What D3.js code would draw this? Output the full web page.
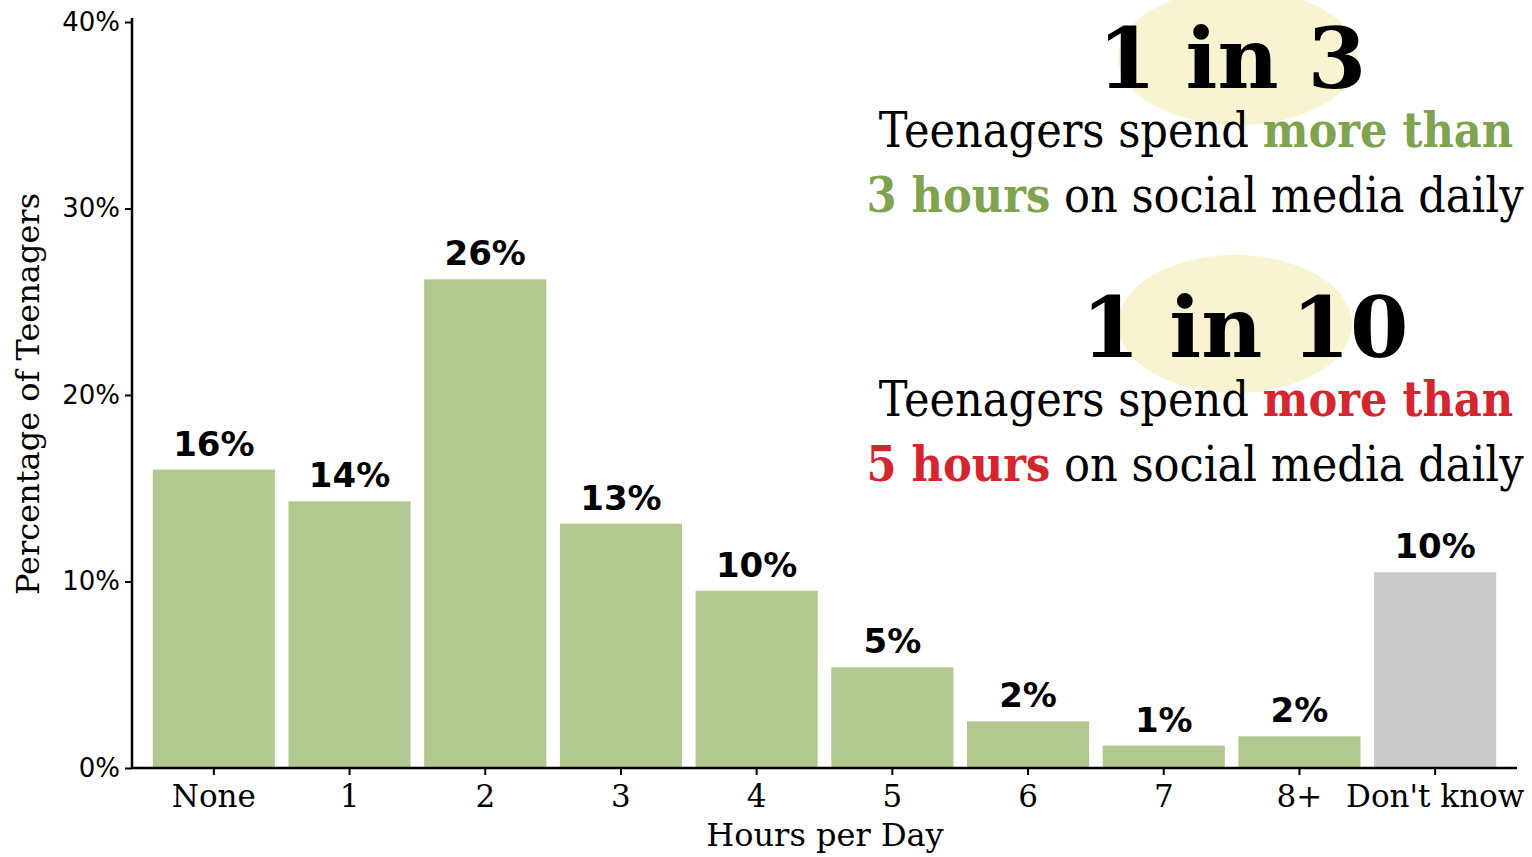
<html>
<head>
<script src="https://d3js.org/d3.v7.min.js"></script>
<style>
  body { margin: 0; background: #fff; }
  text { font-family: "DejaVu Serif", serif; }
</style>
</head>
<body>
<svg id="chart" width="1532" height="857"></svg>
<script>
  // data
  var categories = ["None", "1", "2", "3", "4", "5", "6", "7", "8+", "Don't know"];
  var percents = [16.0, 14.3, 26.2, 13.1, 9.5, 5.4, 2.5, 1.2, 1.7, 10.5];
  var valueLabels = ["16%", "14%", "26%", "13%", "10%", "5%", "2%", "1%", "2%", "10%"];
  var yTicks = [0, 10, 20, 30, 40];

  var headlines = ["1 in 3", "1 in 10"];
  var hourCounts = ["3", "5"];
  var accentColors = ["#7fa34e", "#d5252f"];

  var svg = d3.select("#chart");

  var x = d3.scaleBand()
    .domain(categories)
    .range([146, 1503])
    .paddingInner(0.1)
    .paddingOuter(0.05);

  var y = d3.scaleLinear()
    .domain([0, 40])
    .range([768, 22]);

  // annotation blobs go behind everything
  var notes = svg.append("g");
  var blobs = [{ cx: 1238, cy: 57, rx: 120, ry: 68 }, { cx: 1235, cy: 324, rx: 117, ry: 69 }];
  notes.selectAll("ellipse")
    .data(blobs)
    .enter()
    .append("ellipse")
    .attr("cx", (d) => d.cx)
    .attr("cy", (d) => d.cy)
    .attr("rx", (d) => d.rx)
    .attr("ry", (d) => d.ry)
    .attr("fill", "#f8f4d2");

  // bars
  svg.append("g")
    .selectAll("rect")
    .data(categories)
    .enter()
    .append("rect")
    .attr("x", (d) => x(d))
    .attr("y", (d, i) => y(percents[i]))
    .attr("width", x.bandwidth())
    .attr("height", (d, i) => y(0) - y(percents[i]))
    .attr("fill", (d) => d == "Don't know" ? "#cacaca" : "#b2c890");

  // value labels
  svg.append("g")
    .selectAll("text")
    .data(categories)
    .enter()
    .append("text")
    .attr("x", (d) => x(d) + x.bandwidth() / 2)
    .attr("y", (d, i) => y(percents[i]) - 14)
    .attr("text-anchor", "middle")
    .style("font-family", "'DejaVu Sans', sans-serif")
    .style("font-weight", "bold")
    .style("font-size", "34px")
    .text((d, i) => valueLabels[i]);

  // x axis
  var xAxis = svg.append("g")
    .attr("transform", "translate(0,768)")
    .call(d3.axisBottom(x).tickSize(7).tickSizeOuter(0));
  xAxis.select(".domain").attr("d", "M132,0H1517").attr("stroke", "#000").attr("stroke-width", 2.5);
  xAxis.selectAll(".tick line").attr("stroke", "#000").attr("stroke-width", 2);
  xAxis.selectAll(".tick text")
    .attr("fill", "#000")
    .attr("dy", "0.95em")
    .style("font-family", "'DejaVu Serif', serif")
    .style("font-size", "31px");

  // y axis
  var yAxis = svg.append("g")
    .attr("transform", "translate(132,0)")
    .call(d3.axisLeft(y).tickValues(yTicks).tickFormat((d) => d + "%").tickSize(7).tickSizeOuter(0));
  yAxis.select(".domain").attr("d", "M0,18V768").attr("stroke", "#000").attr("stroke-width", 2.5);
  yAxis.selectAll(".tick line").attr("stroke", "#000").attr("stroke-width", 2);
  yAxis.selectAll(".tick text")
    .attr("fill", "#000")
    .attr("x", -12)
    .style("font-family", "'DejaVu Sans', sans-serif")
    .style("font-size", "26px");

  // axis titles
  svg.append("text")
    .attr("x", 825)
    .attr("y", 846)
    .attr("text-anchor", "middle")
    .style("font-size", "32px")
    .text("Hours per Day");

  svg.append("text")
    .attr("transform", "translate(39,394) rotate(-90)")
    .attr("text-anchor", "middle")
    .style("font-size", "32px")
    .text("Percentage of Teenagers");

  // annotations
  var blocks = notes.selectAll("g.block")
    .data(headlines)
    .enter()
    .append("g")
    .attr("class", "block")
    .attr("transform", (d, i) => "translate(0," + (i * 269) + ")");

  blocks.append("text")
    .attr("x", (d, i) => i == 0 ? 1232 : 1245)
    .attr("y", 88)
    .attr("text-anchor", "middle")
    .style("font-weight", "bold")
    .style("font-size", "84px")
    .text((d) => d);

  var line1 = blocks.append("text")
    .attr("x", 1196)
    .attr("y", 147)
    .attr("text-anchor", "middle")
    .style("font-stretch", "condensed")
    .style("font-size", "48px");
  line1.append("tspan").text("Teenagers spend ");
  line1.append("tspan")
    .attr("fill", (d, i) => accentColors[i])
    .style("font-weight", "bold")
    .text("more than");

  var line2 = blocks.append("text")
    .attr("x", 1195)
    .attr("y", 212)
    .attr("text-anchor", "middle")
    .style("font-stretch", "condensed")
    .style("font-size", "48px");
  line2.append("tspan")
    .attr("fill", (d, i) => accentColors[i])
    .style("font-weight", "bold")
    .text((d, i) => hourCounts[i] + " hours");
  line2.append("tspan").text(" on social media daily");
</script>
</body>
</html>
